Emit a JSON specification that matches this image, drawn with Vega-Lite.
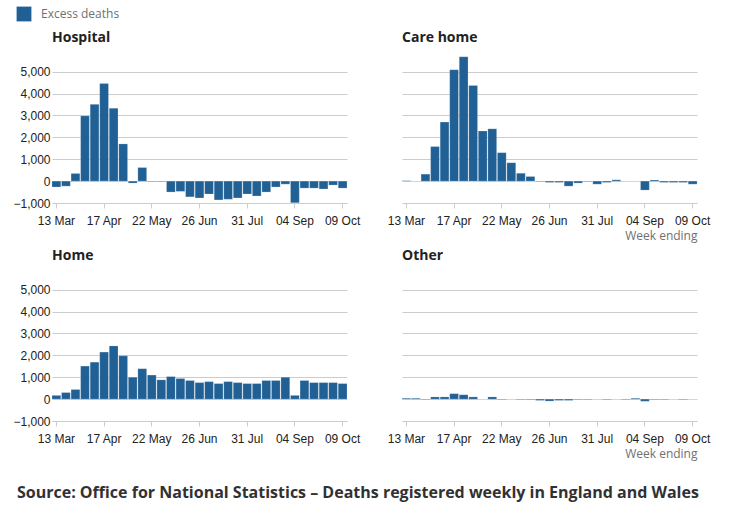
{
  "$schema": "https://vega.github.io/schema/vega-lite/v6.json",
  "padding": {"left": 12, "top": 6, "right": 10, "bottom": 5},
  "background": "white",
  "datasets": {
    "deaths": [
      {"place": "Hospital", "week": "13 Mar", "excess": -270},
      {"place": "Hospital", "week": "20 Mar", "excess": -230},
      {"place": "Hospital", "week": "27 Mar", "excess": 350},
      {"place": "Hospital", "week": "03 Apr", "excess": 2980},
      {"place": "Hospital", "week": "10 Apr", "excess": 3510},
      {"place": "Hospital", "week": "17 Apr", "excess": 4460},
      {"place": "Hospital", "week": "24 Apr", "excess": 3330},
      {"place": "Hospital", "week": "01 May", "excess": 1700},
      {"place": "Hospital", "week": "08 May", "excess": -90},
      {"place": "Hospital", "week": "15 May", "excess": 620},
      {"place": "Hospital", "week": "22 May", "excess": -20},
      {"place": "Hospital", "week": "29 May", "excess": -20},
      {"place": "Hospital", "week": "05 Jun", "excess": -500},
      {"place": "Hospital", "week": "12 Jun", "excess": -470},
      {"place": "Hospital", "week": "19 Jun", "excess": -720},
      {"place": "Hospital", "week": "26 Jun", "excess": -770},
      {"place": "Hospital", "week": "03 Jul", "excess": -590},
      {"place": "Hospital", "week": "10 Jul", "excess": -860},
      {"place": "Hospital", "week": "17 Jul", "excess": -830},
      {"place": "Hospital", "week": "24 Jul", "excess": -770},
      {"place": "Hospital", "week": "31 Jul", "excess": -590},
      {"place": "Hospital", "week": "07 Aug", "excess": -680},
      {"place": "Hospital", "week": "14 Aug", "excess": -500},
      {"place": "Hospital", "week": "21 Aug", "excess": -270},
      {"place": "Hospital", "week": "28 Aug", "excess": -140},
      {"place": "Hospital", "week": "04 Sep", "excess": -990},
      {"place": "Hospital", "week": "11 Sep", "excess": -320},
      {"place": "Hospital", "week": "18 Sep", "excess": -320},
      {"place": "Hospital", "week": "25 Sep", "excess": -360},
      {"place": "Hospital", "week": "02 Oct", "excess": -180},
      {"place": "Hospital", "week": "09 Oct", "excess": -320},
      {"place": "Care home", "week": "13 Mar", "excess": 20},
      {"place": "Care home", "week": "20 Mar", "excess": 0},
      {"place": "Care home", "week": "27 Mar", "excess": 320},
      {"place": "Care home", "week": "03 Apr", "excess": 1580},
      {"place": "Care home", "week": "10 Apr", "excess": 2700},
      {"place": "Care home", "week": "17 Apr", "excess": 5090},
      {"place": "Care home", "week": "24 Apr", "excess": 5680},
      {"place": "Care home", "week": "01 May", "excess": 4370},
      {"place": "Care home", "week": "08 May", "excess": 2290},
      {"place": "Care home", "week": "15 May", "excess": 2390},
      {"place": "Care home", "week": "22 May", "excess": 1300},
      {"place": "Care home", "week": "29 May", "excess": 840},
      {"place": "Care home", "week": "05 Jun", "excess": 360},
      {"place": "Care home", "week": "12 Jun", "excess": 210},
      {"place": "Care home", "week": "19 Jun", "excess": -20},
      {"place": "Care home", "week": "26 Jun", "excess": -60},
      {"place": "Care home", "week": "03 Jul", "excess": -60},
      {"place": "Care home", "week": "10 Jul", "excess": -230},
      {"place": "Care home", "week": "17 Jul", "excess": -90},
      {"place": "Care home", "week": "24 Jul", "excess": -20},
      {"place": "Care home", "week": "31 Jul", "excess": -140},
      {"place": "Care home", "week": "07 Aug", "excess": -60},
      {"place": "Care home", "week": "14 Aug", "excess": 60},
      {"place": "Care home", "week": "21 Aug", "excess": 0},
      {"place": "Care home", "week": "28 Aug", "excess": 0},
      {"place": "Care home", "week": "04 Sep", "excess": -410},
      {"place": "Care home", "week": "11 Sep", "excess": 50},
      {"place": "Care home", "week": "18 Sep", "excess": -60},
      {"place": "Care home", "week": "25 Sep", "excess": -60},
      {"place": "Care home", "week": "02 Oct", "excess": -60},
      {"place": "Care home", "week": "09 Oct", "excess": -140},
      {"place": "Home", "week": "13 Mar", "excess": 170},
      {"place": "Home", "week": "20 Mar", "excess": 300},
      {"place": "Home", "week": "27 Mar", "excess": 440},
      {"place": "Home", "week": "03 Apr", "excess": 1510},
      {"place": "Home", "week": "10 Apr", "excess": 1690},
      {"place": "Home", "week": "17 Apr", "excess": 2150},
      {"place": "Home", "week": "24 Apr", "excess": 2430},
      {"place": "Home", "week": "01 May", "excess": 1980},
      {"place": "Home", "week": "08 May", "excess": 1000},
      {"place": "Home", "week": "15 May", "excess": 1390},
      {"place": "Home", "week": "22 May", "excess": 1100},
      {"place": "Home", "week": "29 May", "excess": 880},
      {"place": "Home", "week": "05 Jun", "excess": 1030},
      {"place": "Home", "week": "12 Jun", "excess": 940},
      {"place": "Home", "week": "19 Jun", "excess": 850},
      {"place": "Home", "week": "26 Jun", "excess": 755},
      {"place": "Home", "week": "03 Jul", "excess": 800},
      {"place": "Home", "week": "10 Jul", "excess": 710},
      {"place": "Home", "week": "17 Jul", "excess": 800},
      {"place": "Home", "week": "24 Jul", "excess": 755},
      {"place": "Home", "week": "31 Jul", "excess": 710},
      {"place": "Home", "week": "07 Aug", "excess": 710},
      {"place": "Home", "week": "14 Aug", "excess": 850},
      {"place": "Home", "week": "21 Aug", "excess": 850},
      {"place": "Home", "week": "28 Aug", "excess": 1000},
      {"place": "Home", "week": "04 Sep", "excess": 170},
      {"place": "Home", "week": "11 Sep", "excess": 850},
      {"place": "Home", "week": "18 Sep", "excess": 755},
      {"place": "Home", "week": "25 Sep", "excess": 755},
      {"place": "Home", "week": "02 Oct", "excess": 755},
      {"place": "Home", "week": "09 Oct", "excess": 710},
      {"place": "Other", "week": "13 Mar", "excess": 40},
      {"place": "Other", "week": "20 Mar", "excess": 40},
      {"place": "Other", "week": "27 Mar", "excess": -20},
      {"place": "Other", "week": "03 Apr", "excess": 100},
      {"place": "Other", "week": "10 Apr", "excess": 100},
      {"place": "Other", "week": "17 Apr", "excess": 250},
      {"place": "Other", "week": "24 Apr", "excess": 200},
      {"place": "Other", "week": "01 May", "excess": 100},
      {"place": "Other", "week": "08 May", "excess": 0},
      {"place": "Other", "week": "15 May", "excess": 100},
      {"place": "Other", "week": "22 May", "excess": -20},
      {"place": "Other", "week": "29 May", "excess": 0},
      {"place": "Other", "week": "05 Jun", "excess": -20},
      {"place": "Other", "week": "12 Jun", "excess": -20},
      {"place": "Other", "week": "19 Jun", "excess": -60},
      {"place": "Other", "week": "26 Jun", "excess": -90},
      {"place": "Other", "week": "03 Jul", "excess": -60},
      {"place": "Other", "week": "10 Jul", "excess": -60},
      {"place": "Other", "week": "17 Jul", "excess": -20},
      {"place": "Other", "week": "24 Jul", "excess": -20},
      {"place": "Other", "week": "31 Jul", "excess": 0},
      {"place": "Other", "week": "07 Aug", "excess": -20},
      {"place": "Other", "week": "14 Aug", "excess": 0},
      {"place": "Other", "week": "21 Aug", "excess": -20},
      {"place": "Other", "week": "28 Aug", "excess": 40},
      {"place": "Other", "week": "04 Sep", "excess": -100},
      {"place": "Other", "week": "11 Sep", "excess": -20},
      {"place": "Other", "week": "18 Sep", "excess": -20},
      {"place": "Other", "week": "25 Sep", "excess": 0},
      {"place": "Other", "week": "02 Oct", "excess": -20},
      {"place": "Other", "week": "09 Oct", "excess": 0}
    ]
  },
  "data": {"name": "deaths"},
  "title": {
    "text": "Source: Office for National Statistics \u2013 Deaths registered weekly in England and Wales",
    "orient": "bottom",
    "anchor": "start",
    "frame": "bounds",
    "dx": 4,
    "font": "Open Sans",
    "fontSize": 16,
    "fontWeight": "bold",
    "color": "#323132",
    "offset": 26
  },
  "columns": 2,
  "bounds": "flush",
  "spacing": {"column": 55, "row": 67},
  "concat": [
    {
      "title": "Hospital",
      "transform": [{"filter": "datum.place === 'Hospital'"}],
      "width": 295,
      "height": 151,
      "mark": {"type": "bar"},
      "encoding": {
        "x": {"field": "week", "type": "ordinal", "sort": null, "title": null,
              "axis": {"values": ["13 Mar", "17 Apr", "22 May", "26 Jun", "31 Jul", "04 Sep", "09 Oct"]}},
        "y": {"field": "excess", "type": "quantitative", "title": null,
              "scale": {"domain": [-1000, 5900], "nice": false},
              "axis": {"values": [-1000, 0, 1000, 2000, 3000, 4000, 5000], "format": ",.0f"}},
        "color": {"datum": "Excess deaths", "type": "nominal"}
      }
    },
    {
      "title": "Care home",
      "transform": [{"filter": "datum.place === 'Care home'"}],
      "width": 295,
      "height": 151,
      "mark": {"type": "bar"},
      "encoding": {
        "x": {"field": "week", "type": "ordinal", "sort": null, "title": "Week ending",
              "axis": {"values": ["13 Mar", "17 Apr", "22 May", "26 Jun", "31 Jul", "04 Sep", "09 Oct"],
                       "titleAnchor": "end", "titleColor": "#707070", "titleFontWeight": "normal", "titleFontSize": 12, "titleFont": "Open Sans", "titlePadding": 4}},
        "y": {"field": "excess", "type": "quantitative", "title": null,
              "scale": {"domain": [-1000, 5900], "nice": false},
              "axis": {"values": [-1000, 0, 1000, 2000, 3000, 4000, 5000], "labels": false}},
        "color": {"datum": "Excess deaths", "type": "nominal"}
      }
    },
    {
      "title": "Home",
      "transform": [{"filter": "datum.place === 'Home'"}],
      "width": 295,
      "height": 151,
      "mark": {"type": "bar"},
      "encoding": {
        "x": {"field": "week", "type": "ordinal", "sort": null, "title": null,
              "axis": {"values": ["13 Mar", "17 Apr", "22 May", "26 Jun", "31 Jul", "04 Sep", "09 Oct"]}},
        "y": {"field": "excess", "type": "quantitative", "title": null,
              "scale": {"domain": [-1000, 5900], "nice": false},
              "axis": {"values": [-1000, 0, 1000, 2000, 3000, 4000, 5000], "format": ",.0f"}},
        "color": {"datum": "Excess deaths", "type": "nominal"}
      }
    },
    {
      "title": "Other",
      "transform": [{"filter": "datum.place === 'Other'"}],
      "width": 295,
      "height": 151,
      "mark": {"type": "bar"},
      "encoding": {
        "x": {"field": "week", "type": "ordinal", "sort": null, "title": "Week ending",
              "axis": {"values": ["13 Mar", "17 Apr", "22 May", "26 Jun", "31 Jul", "04 Sep", "09 Oct"],
                       "titleAnchor": "end", "titleColor": "#707070", "titleFontWeight": "normal", "titleFontSize": 12, "titleFont": "Open Sans", "titlePadding": 4}},
        "y": {"field": "excess", "type": "quantitative", "title": null,
              "scale": {"domain": [-1000, 5900], "nice": false},
              "axis": {"values": [-1000, 0, 1000, 2000, 3000, 4000, 5000], "labels": false}},
        "color": {"datum": "Excess deaths", "type": "nominal"}
      }
    }
  ],
  "resolve": {"scale": {"y": "independent"}, "axis": {"y": "independent"}},
  "config": {
    "view": {"stroke": null},
    "bar": {"stroke": "#ffffff", "strokeWidth": 0.4, "strokeOpacity": 0.5},
    "scale": {"bandPaddingInner": 0.08, "bandPaddingOuter": 0},
    "range": {"category": ["#206095"]},
    "axisY": {
      "domain": false,
      "ticks": false,
      "grid": true,
      "gridColor": "#cccccc",
      "labelFont": "Liberation Sans",
      "labelFontSize": 12,
      "labelColor": "#222222",
      "labelPadding": 2
    },
    "axisX": {
      "labelAngle": 0,
      "domainColor": "#cccccc",
      "tickColor": "#cccccc",
      "tickSize": 5,
      "grid": false,
      "labelFont": "Liberation Sans",
      "labelFontSize": 12,
      "labelColor": "#222222",
      "labelPadding": 7
    },
    "title": {
      "anchor": "start",
      "frame": "group",
      "font": "Open Sans",
      "fontSize": 14,
      "fontWeight": "bold",
      "color": "#222222",
      "offset": 7
    },
    "legend": {
      "orient": "none",
      "legendX": -36,
      "legendY": -46,
      "title": null,
      "symbolType": "square",
      "symbolSize": 225,
      "symbolStrokeWidth": 0,
      "labelOffset": 9,
      "labelFont": "Open Sans",
      "labelFontSize": 12,
      "labelColor": "#707070",
      "padding": 0
    }
  }
}
